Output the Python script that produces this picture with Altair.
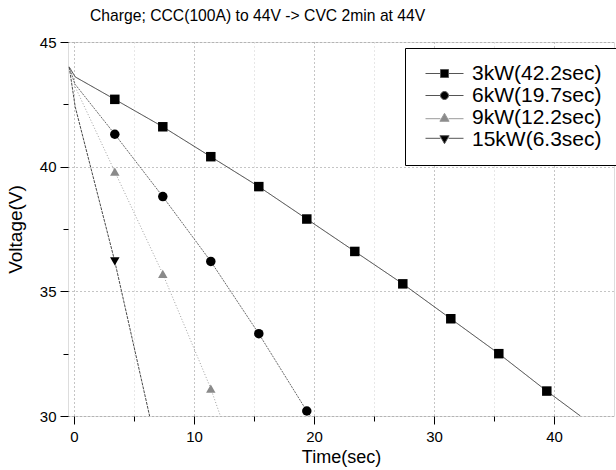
import altair as alt
import pandas as pd

SERIES = ["3kW", "6kW", "9kW", "15kW"]
LABELS = ["3kW(42.2sec)", "6kW(19.7sec)", "9kW(12.2sec)", "15kW(6.3sec)"]

# marker sample times (s)
T_MARK = [3.4, 7.4, 11.4, 15.4, 19.4, 23.4, 27.4, 31.4, 35.4, 39.4]
V_3KW = [42.7, 41.6, 40.4, 39.2, 37.9, 36.6, 35.3, 33.9, 32.5, 31.0]
V_6KW = [41.3, 38.8, 36.2, 33.3, 30.2]
V_9KW = [39.8, 35.7, 31.1]
V_15KW = [36.2]

# beginning of discharge: rest voltage then immediate IR drop
T_START = [-0.4, 0.1]
V_REST = 44.0
V_KNEE = [43.6, 43.3, 43.2, 42.4]
# time to reach cut-off voltage
T_END = [42.2, 19.7, 12.2, 6.3]
V_CUT = 30.0

V_ALL = [V_3KW, V_6KW, V_9KW, V_15KW]

mark_rows, line_rows = [], []
for i, s in enumerate(SERIES):
    line_rows.append({"series": s, "t": T_START[0], "v": V_REST})
    line_rows.append({"series": s, "t": T_START[1], "v": V_KNEE[i]})
    for t, v in zip(T_MARK, V_ALL[i]):
        mark_rows.append({"series": s, "t": t, "v": v})
        line_rows.append({"series": s, "t": t, "v": v})
    line_rows.append({"series": s, "t": T_END[i], "v": V_CUT})

marks_df = pd.DataFrame(mark_rows)
lines_df = pd.DataFrame(line_rows)
legend_df = pd.DataFrame({"label": LABELS})

FONT = "Liberation Sans"

xscale = alt.Scale(domain=[-0.5, 45], nice=False, zero=False)
yscale = alt.Scale(domain=[30, 45], nice=False, zero=False)

xaxis = alt.Axis(
    values=[0, 5, 10, 15, 20, 25, 30, 35, 40],
    labelExpr="datum.value % 10 === 0 ? datum.label : ''",
    tickSize={"condition": {"test": "datum.value % 10 === 0", "value": 8}, "value": 5},
    gridColor={"condition": {"test": "datum.value % 10 === 0", "value": "#8a8a8a"}, "value": "#cfcfcf"},
    gridDash=[1, 3], grid=True, domain=False, tickColor="black", tickWidth=1,
    labelFontSize=15, labelPadding=5, labelColor="black", labelFont=FONT,
    title="Time(sec)", titleFontSize=18, titlePadding=4, titleFontWeight="normal",
    titleFont=FONT, titleColor="black",
)
yaxis = alt.Axis(
    values=[30, 32.5, 35, 37.5, 40, 42.5, 45],
    labelExpr="datum.value % 5 === 0 ? datum.label : ''",
    tickSize={"condition": {"test": "datum.value % 5 === 0", "value": 8}, "value": 5},
    gridOpacity={"condition": {"test": "datum.value % 5 === 0", "value": 1}, "value": 0},
    gridColor="#8a8a8a", gridDash=[1, 3], grid=True, domain=False, tickColor="black",
    labelFontSize=15, labelPadding=4, labelColor="black", labelFont=FONT,
    title="Voltage(V)", titleFontSize=19, titlePadding=14, titleFontWeight="normal",
    titleFont=FONT, titleColor="black",
)

lines = alt.Chart(lines_df).mark_line(strokeWidth=1, clip=True).encode(
    x=alt.X("t:Q", scale=xscale, axis=xaxis),
    y=alt.Y("v:Q", scale=yscale, axis=yaxis),
    color=alt.Color("series:N", scale=alt.Scale(domain=SERIES, range=["#3a3a3a", "#6a6a6a", "#a0a0a0", "#4a4a4a"]), legend=None),
    strokeDash=alt.StrokeDash("series:N", scale=alt.Scale(domain=SERIES, range=[[1, 0], [2, 1], [1, 2], [3, 1]]), legend=None),
    detail="series:N",
)

markers = alt.Chart(marks_df).mark_point(filled=True, opacity=1, size=90).encode(
    x=alt.X("t:Q", scale=xscale),
    y=alt.Y("v:Q", scale=yscale),
    color=alt.Color("series:N", scale=alt.Scale(domain=SERIES, range=["#000000", "#000000", "#8a8a8a", "#000000"]), legend=None),
    shape=alt.Shape("series:N", scale=alt.Scale(domain=SERIES, range=["square", "circle", "triangle-up", "triangle-down"]), legend=None),
)

SYM_PATHS = [
    "M-4.75,0H-1M1,0H4.75M-1,-1H1V1H-1Z",
    "M-4.75,0H-1M1,0H4.75M-1,0A1,1,0,1,1,1,0A1,1,0,1,1,-1,0Z",
    "M-4.75,0.3H-1M1,0.3H4.75M0,-1.05L1.15,0.95H-1.15Z",
    "M-4.75,-0.3H-1M1,-0.3H4.75M0,1.05L1.15,-0.95H-1.15Z",
]
leg = alt.Legend(
    title=None, orient="none", legendX=337, legendY=6, padding=15,
    strokeColor="black", fillColor="white", labelFontSize=21, labelFont=FONT,
    labelColor="black", symbolOffset=14, labelOffset=17, rowPadding=0,
    symbolSize=64, symbolStrokeWidth=1,
)
legend_layer = alt.Chart(legend_df).mark_point(size=64, opacity=1, strokeWidth=1).encode(
    shape=alt.Shape("label:N", scale=alt.Scale(domain=LABELS, range=SYM_PATHS), legend=leg),
    fill=alt.Fill("label:N", scale=alt.Scale(domain=LABELS, range=["#000000", "#000000", "#8a8a8a", "#000000"]), legend=leg),
    stroke=alt.Stroke("label:N", scale=alt.Scale(domain=LABELS, range=["#555555", "#555555", "#9a9a9a", "#555555"]), legend=leg),
).transform_filter("false")

chart = alt.layer(lines, markers, legend_layer).resolve_scale(
    color="independent", shape="independent", fill="independent", stroke="independent", strokeDash="independent"
).properties(
    width=546, height=374,
    padding={"left": 68, "top": 42, "right": 2, "bottom": 54},
    autosize=alt.AutoSizeParams(type="none"),
    title=alt.TitleParams(
        "Charge; CCC(100A) to 44V -> CVC 2min at 44V", anchor="start", frame="group", dx=22,
        fontSize=15.7, fontWeight="normal", font=FONT, color="black", offset=10,
    ),
).configure_view(stroke="black", strokeWidth=1.5).configure(background="white")

chart.save("out.html", embed_options={"renderer": "svg", "actions": False})
